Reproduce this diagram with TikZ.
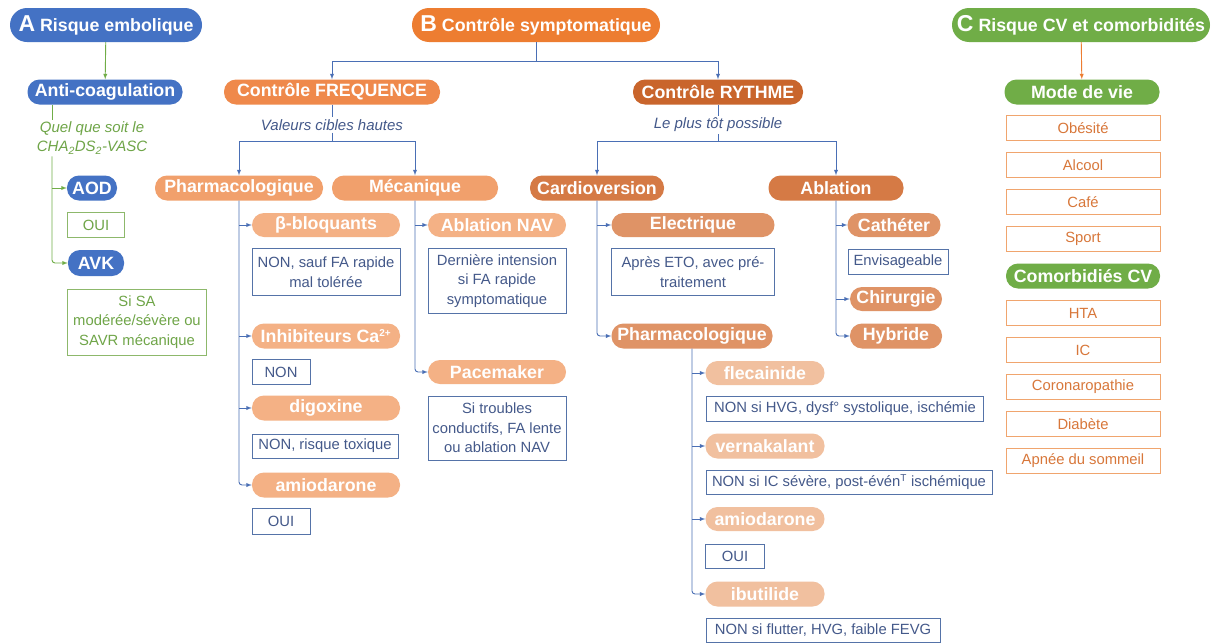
\documentclass[tikz,border=0pt]{standalone}
\usepackage{fontspec}
\setmainfont{Liberation Sans}
\usepackage{tikz}
\usetikzlibrary{arrows}
\definecolor{blueA}{HTML}{4472C4}
\definecolor{orangeB}{HTML}{ED7D31}
\definecolor{greenC}{HTML}{70AD47}
\definecolor{freqcol}{HTML}{EF894B}
\definecolor{rythcol}{HTML}{C9652C}
\definecolor{lvl2F}{HTML}{F1A06C}
\definecolor{lvl2R}{HTML}{D57A45}
\definecolor{lvl3F}{HTML}{F4B185}
\definecolor{lvl3R}{HTML}{DF9366}
\definecolor{lvl4R}{HTML}{F1C09F}
\definecolor{lineblue}{HTML}{4A6FB5}
\definecolor{boxblue}{HTML}{5573A8}
\definecolor{txtblue}{HTML}{44598A}
\definecolor{boxgreen}{HTML}{8DB86B}
\definecolor{txtgreen}{HTML}{6FA548}
\definecolor{boxorange}{HTML}{F0A56E}
\definecolor{txtorange}{HTML}{D8773A}
\tikzstyle{pill}=[rounded corners=12pt, minimum height=25pt, inner sep=0pt, text=white, font=\bfseries\fontsize{17.8}{19}\selectfont]
\tikzstyle{head}=[pill, rounded corners=17pt, minimum height=34pt]
\tikzstyle{txtbox}=[draw=boxblue, text=txtblue, line width=0.8pt, inner sep=0pt, align=center, font=\fontsize{14.8}{19.5}\selectfont]
\tikzstyle{gbox}=[txtbox, draw=boxgreen, text=txtgreen]
\tikzstyle{obox}=[txtbox, draw=boxorange, text=txtorange, minimum width=154pt, minimum height=25pt]
\tikzstyle{note}=[align=center, inner sep=2pt, text=txtblue, font=\itshape\fontsize{15}{19}\selectfont]
\tikzstyle{link}=[draw=lineblue, line width=0.9pt]
\tikzstyle{arr}=[link, -latex]
\tikzstyle{garr}=[draw=greenC, line width=0.9pt, -latex]
\tikzstyle{oarr}=[draw=orangeB, line width=0.9pt, -latex]
\newcommand{\supsm}[1]{\textsuperscript{\fontsize{10}{10}\selectfont #1}}

\begin{document}
\begin{tikzpicture}[x=1pt, y=-1pt]
			\fill[white] (0,0) rectangle (1213,643);
			\useasboundingbox (0,0) rectangle (1213,643);
			% A : risque embolique
			\node[head, fill=blueA, minimum width=192pt] (A) at (106,25) {{\fontsize{23}{23}\selectfont A} Risque embolique};
			\node[pill, fill=blueA, minimum width=155pt] (anticoag) at (105,92) {Anti-coagulation};
			\node[note, text=txtgreen] (quel) at (92,138) {Quel que soit le\\CHA\textsubscript{2}DS\textsubscript{2}-VASC};
			\node[pill, fill=blueA, minimum width=50pt] (aod) at (92,188) {AOD};
			\node[gbox, minimum width=57pt, minimum height=25pt] (ouiA) at (96,225) {OUI};
			\node[pill, fill=blueA, minimum width=56pt, minimum height=26pt] (avk) at (96,263) {AVK};
			\node[gbox, minimum width=139pt, minimum height=66pt] (siSA) at (137,322) {Si SA\\modérée/sévère ou\\SAVR mécanique};
			\coordinate (gtop) at (52,105);
			\draw[draw=greenC, line width=0.9pt] (gtop) -- (gtop |- quel.north);
			\draw[garr] (A) -- (anticoag);
			\draw[garr] (gtop |- aod.west) -- (aod.west);
			\draw[garr, rounded corners=3pt] (gtop |- quel.south) |- (avk.west);
			% B : controle symptomatique
			\node[head, fill=orangeB, minimum width=248pt] (B) at (536,25) {{\fontsize{23}{23}\selectfont B} Contrôle symptomatique};
			\node[pill, fill=freqcol, minimum width=216pt] (freq) at (332,92) {Contrôle FREQUENCE};
			\node[note] (valeurs) at (332,125) {Valeurs cibles hautes};
			\node[pill, fill=lvl2F, minimum width=168pt] (pharmaF) at (239,188) {Pharmacologique};
			\node[pill, fill=lvl2F, minimum width=166pt] (meca) at (415,188) {Mécanique};
			\node[pill, fill=lvl3F, minimum width=148pt, minimum height=24pt] (bbloq) at (326,225) {β-bloquants};
			\node[txtbox, minimum width=148pt, minimum height=47pt] (nonSauf) at (326,272) {NON, sauf FA rapide\\mal tolérée};
			\node[pill, fill=lvl3F, minimum width=148pt] (inhib) at (326,336) {Inhibiteurs Ca\supsm{2+}};
			\node[txtbox, minimum width=58pt, minimum height=25pt] (nonInhib) at (281,372) {NON};
			\node[pill, fill=lvl3F, minimum width=148pt] (digox) at (326,408) {digoxine};
			\node[txtbox, minimum width=146pt, minimum height=24pt] (nonTox) at (325,446) {NON, risque toxique};
			\node[pill, fill=lvl3F, minimum width=148pt] (amioF) at (326,485) {amiodarone};
			\node[txtbox, minimum width=58pt, minimum height=26pt] (ouiF) at (281,521) {OUI};
			\node[pill, fill=lvl3F, minimum width=138pt, minimum height=24pt] (ablNAV) at (497,225) {Ablation NAV};
			\node[txtbox, minimum width=138pt, minimum height=65pt] (derniere) at (497,281) {Dernière intension\\si FA rapide\\symptomatique};
			\node[pill, fill=lvl3F, minimum width=138pt, minimum height=24pt] (pacem) at (497,372) {Pacemaker};
			\node[txtbox, minimum width=138pt, minimum height=64pt] (troubles) at (497,428) {Si troubles\\conductifs, FA lente\\ou ablation NAV};
			\node[pill, fill=rythcol, minimum width=170pt] (rythme) at (718,92) {Contrôle RYTHME};
			\node[note] (plustot) at (718,125) {Le plus tôt possible};
			\node[pill, fill=lvl2R, minimum width=134pt] (cardio) at (597,188) {Cardioversion};
			\node[pill, fill=lvl2R, minimum width=135pt] (ablation) at (836,188) {Ablation};
			\node[pill, fill=lvl3R, minimum width=163pt, minimum height=24pt] (electr) at (693,225) {Electrique};
			\node[txtbox, minimum width=163pt, minimum height=47pt] (apres) at (693,272) {Après ETO, avec pré-\\traitement};
			\node[pill, fill=lvl3R, minimum width=161pt] (pharmaR) at (692,336) {Pharmacologique};
			\node[pill, fill=lvl3R, minimum width=93pt, minimum height=24pt] (cathe) at (894,225) {Cathéter};
			\node[txtbox, minimum width=100pt, minimum height=25pt] (envis) at (898,262) {Envisageable};
			\node[pill, fill=lvl3R, minimum width=92pt, minimum height=24pt] (chir) at (896,299) {Chirurgie};
			\node[pill, fill=lvl3R, minimum width=92pt] (hybr) at (896,336) {Hybride};
			\node[pill, fill=lvl4R, minimum width=119pt, minimum height=24pt] (fleca) at (765,373) {flecainide};
			\node[txtbox, minimum width=277pt, minimum height=25pt] (nonHVG) at (845,409) {NON si HVG, dysf° systolique, ischémie};
			\node[pill, fill=lvl4R, minimum width=119pt] (verna) at (765,446) {vernakalant};
			\node[txtbox, minimum width=286pt, minimum height=24pt] (nonIC) at (849,482) {NON si IC sévère, post-évén\supsm{T} ischémique};
			\node[pill, fill=lvl4R, minimum width=119pt, minimum height=24pt] (amioR) at (765,519) {amiodarone};
			\node[txtbox, minimum width=59pt, minimum height=24pt] (ouiR) at (735,556) {OUI};
			\node[pill, fill=lvl4R, minimum width=119pt] (ibut) at (765,594) {ibutilide};
			\node[txtbox, minimum width=234pt, minimum height=24pt] (nonFlut) at (823,630) {NON si flutter, HVG, faible FEVG};
			\coordinate (jF) at (332,141);
			\coordinate (jR) at (718,141);
			\draw[arr] (B.south) -- ++(0,19) -| (freq.north);
			\draw[arr] (B.south) -- ++(0,19) -| (rythme.north);
			\draw[link] (freq) -- (valeurs);
			\draw[link] (valeurs) -- (jF);
			\draw[arr] (jF) -| (pharmaF.north);
			\draw[arr] (jF) -| (meca.north);
			\draw[link] (rythme) -- (plustot);
			\draw[link] (plustot) -- (jR);
			\draw[arr] (jR) -| (cardio.north);
			\draw[arr] (jR) -| (ablation.north);
			\draw[arr, rounded corners=3pt] (pharmaF.south) |- (amioF.west);
			\foreach \n in {bbloq, inhib, digox} \draw[arr] (pharmaF.south |- \n.west) -- (\n.west);
			\draw[arr, rounded corners=3pt] (meca.south) |- (pacem.west);
			\draw[arr] (meca.south |- ablNAV.west) -- (ablNAV.west);
			\draw[arr, rounded corners=3pt] (cardio.south) |- (pharmaR.west);
			\draw[arr] (cardio.south |- electr.west) -- (electr.west);
			\draw[arr, rounded corners=3pt] (ablation.south) |- (hybr.west);
			\foreach \n in {cathe, chir} \draw[arr] (ablation.south |- \n.west) -- (\n.west);
			\draw[arr, rounded corners=3pt] (pharmaR.south) |- (ibut.west);
			\foreach \n in {fleca, verna, amioR} \draw[arr] (pharmaR.south |- \n.west) -- (\n.west);
			% C : risque CV et comorbidites
			\node[head, fill=greenC, minimum width=258pt] (C) at (1081,25) {{\fontsize{23}{23}\selectfont C} Risque CV et comorbidités};
			\node[pill, fill=greenC, minimum width=155pt] (modevie) at (1082,92) {Mode de vie};
			\node[obox] (obes) at (1083,128) {Obésité};
			\node[obox] (alcool) at (1083,165) {Alcool};
			\node[obox] (cafe) at (1083,202) {Café};
			\node[obox] (sport) at (1083,239) {Sport};
			\node[pill, fill=greenC, minimum width=154pt] (comorb) at (1083,276) {Comorbidiés CV};
			\node[obox] (hta) at (1083,313) {HTA};
			\node[obox] (ic) at (1083,350) {IC};
			\node[obox] (corona) at (1083,387) {Coronaropathie};
			\node[obox] (diab) at (1083,424) {Diabète};
			\node[obox] (apnee) at (1083,461) {Apnée du sommeil};
			\draw[oarr] (C) -- (modevie);
		\end{tikzpicture}
\end{document}
